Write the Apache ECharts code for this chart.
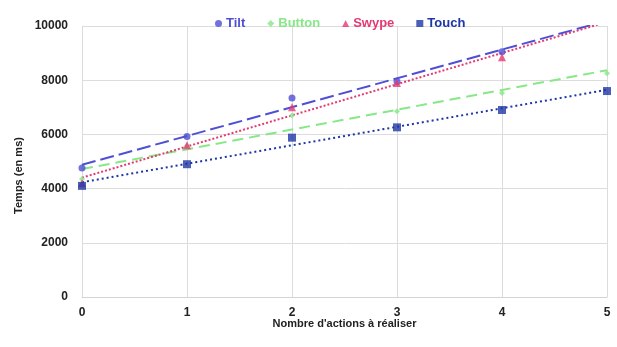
<!DOCTYPE html>
<html>
<head>
<meta charset="utf-8">
<script src="https://cdn.jsdelivr.net/npm/echarts@6/dist/echarts.min.js"></script>
<style>
  html, body { margin: 0; padding: 0; background: #fff; }
  #chart { width: 617px; height: 347px; }
</style>
</head>
<body>
<div id="chart"></div>
<script>
// Number of actions to perform (x values)
const actions = [0, 1, 2, 3, 4, 5];

// Measured times in ms for each interaction technique
const tilt   = [4760, 5920, 7340, 7950, 9050, 10200];
const button = [4350, 5580, 6700, 6850, 7530, 8260];
const swype  = [4200, 5600, 7000, 7900, 8850, 10120];
const touch  = [4100, 4900, 5880, 6260, 6900, 7600];

const seriesNames = ['Tilt', 'Button', 'Swype', 'Touch'];
const yTicks = [0, 2000, 4000, 6000, 8000, 10000];

const colors = {
  Tilt: '#4f4fd6',
  Button: '#86e886',
  Swype: '#e33a72',
  Touch: '#1e36a6'
};
const symbols = { Tilt: 'circle', Button: 'diamond', Swype: 'triangle', Touch: 'rect' };
const symbolSizes = { Tilt: 7, Button: 6, Swype: 8, Touch: 8 };
const dashes = { Tilt: [14, 5], Button: [11, 6], Swype: [2, 2], Touch: [2, 3] };

const values = { Tilt: tilt, Button: button, Swype: swype, Touch: touch };

// Least-squares linear trend through a series
function linearTrend(xs, ys) {
  const n = xs.length;
  const mx = xs.reduce((a, b) => a + b, 0) / n;
  const my = ys.reduce((a, b) => a + b, 0) / n;
  let num = 0, den = 0;
  for (let i = 0; i < n; i++) {
    num += (xs[i] - mx) * (ys[i] - my);
    den += (xs[i] - mx) * (xs[i] - mx);
  }
  const slope = num / den;
  const intercept = my - slope * mx;
  const x0 = xs[0], x1 = xs[n - 1];
  return [[x0, intercept + slope * x0], [x1, intercept + slope * x1]];
}

const series = [];
// Trend lines first so the markers sit on top
seriesNames.forEach(name => {
  series.push({
    name: name + ' (tendance)',
    type: 'line',
    data: linearTrend(actions, values[name]),
    showSymbol: false,
    silent: true,
    z: 2,
    lineStyle: { color: colors[name], width: 2, type: dashes[name] }
  });
});
seriesNames.forEach(name => {
  series.push({
    name: name,
    type: 'scatter',
    data: actions.map((x, i) => [x, values[name][i]]),
    symbol: symbols[name],
    symbolSize: symbolSizes[name],
    z: 3,
    itemStyle: { color: colors[name] }
  });
});

const chart = echarts.init(document.getElementById('chart'), null, { renderer: 'canvas' });
chart.setOption({
  animation: false,
  backgroundColor: '#ffffff',
  textStyle: { fontFamily: 'Liberation Sans, Arial, sans-serif' },
  grid: { left: 82, right: 10, top: 26, bottom: 50 },
  legend: {
    data: seriesNames.map(n => ({ name: n, textStyle: { color: colors[n] } })),
    top: 12,
    left: 210,
    itemGap: 22,
    itemWidth: 7,
    itemHeight: 7,
    textStyle: { fontWeight: 'bold', fontSize: 13, padding: [0, 0, 0, -1] }
  },
  xAxis: {
    type: 'value',
    min: 0,
    max: 5,
    interval: 1,
    name: "Nombre d'actions à réaliser",
    nameLocation: 'middle',
    nameGap: 21,
    nameMoveOverlap: false,
    nameTextStyle: { color: '#222', fontSize: 11, fontWeight: 'bold' },
    axisLine: { lineStyle: { color: '#d4d4d4' } },
    axisTick: { show: false },
    axisLabel: { color: '#222', fontWeight: 'bold', fontSize: 12, margin: 10 },
    splitLine: { show: true, lineStyle: { color: '#dcdcdc' } }
  },
  yAxis: {
    type: 'value',
    min: yTicks[0],
    max: yTicks[yTicks.length - 1],
    interval: 2000,
    name: 'Temps (en ms)',
    nameLocation: 'middle',
    nameGap: 58,
    nameMoveOverlap: false,
    nameTextStyle: { color: '#222', fontSize: 11, fontWeight: 'bold', padding: [0, 28, 0, 0] },
    axisLine: { show: false },
    axisTick: { show: false },
    axisLabel: {
      color: '#222', fontWeight: 'bold', fontSize: 12, margin: 14,
      formatter: v => String(v)
    },
    splitLine: { show: true, lineStyle: { color: '#dcdcdc' } }
  },
  series: series
});
</script>
</body>
</html>
